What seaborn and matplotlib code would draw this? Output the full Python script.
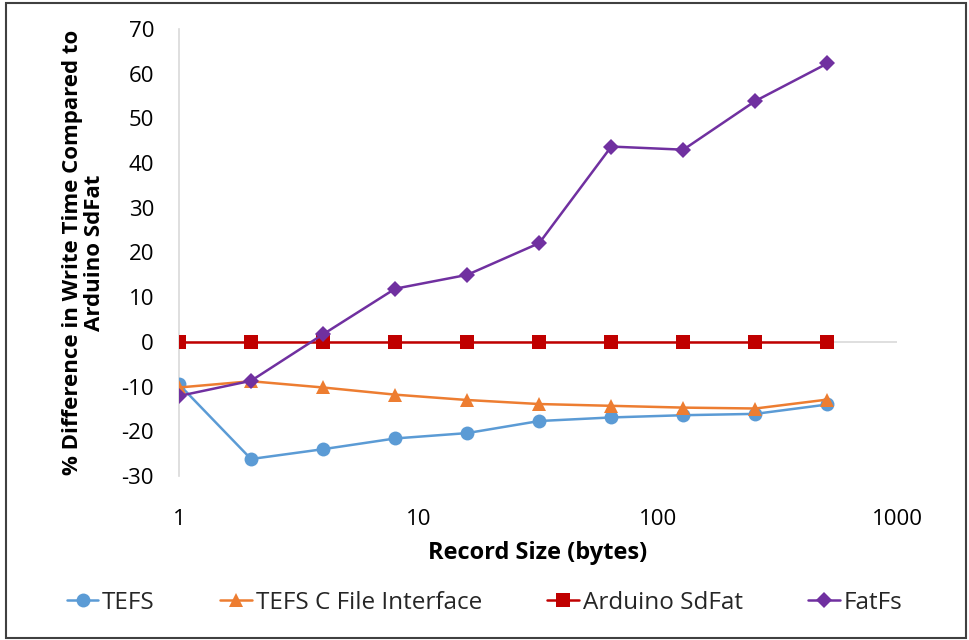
import numpy as np
import pandas as pd
import seaborn as sns
import matplotlib.pyplot as plt
from matplotlib.patches import Rectangle

sns.set_theme()
sns.set_style("white")
plt.rcParams['font.family'] = ['Open Sans', 'DejaVu Sans']
plt.rcParams['axes.unicode_minus'] = False

# record sizes (bytes)
record_size = [1, 2, 4, 8, 16, 32, 64, 128, 256, 512]

# % difference in write time vs Arduino SdFat
tefs = [-9.5, -26.2, -24.0, -21.6, -20.4, -17.7, -16.9, -16.4, -16.1, -14.0]
tefs_c = [-10.2, -8.8, -10.2, -11.8, -13.0, -13.9, -14.3, -14.7, -14.9, -12.9]
sdfat = [0, 0, 0, 0, 0, 0, 0, 0, 0, 0]
fatfs = [-12.1, -8.7, 1.7, 11.9, 15.0, 22.1, 43.7, 43.0, 53.9, 62.3]

names = ["TEFS", "TEFS C File Interface", "Arduino SdFat", "FatFs"]
colors = ["#5b9bd5", "#ed7d31", "#c00000", "#7030a0"]
markers = ["o", "^", "s", "D"]
sizes = [10, 10, 10, 8.5]

df = pd.DataFrame({"size": record_size, names[0]: tefs, names[1]: tefs_c,
                   names[2]: sdfat, names[3]: fatfs})

fig = plt.figure(figsize=(9.69, 6.40), dpi=100)
ax = fig.add_axes([179/969, 1-476/640, (897-179)/969, (476-29)/640])

ax.axhline(0, color="#d9d9d9", lw=1.2, zorder=1)

for i, n in enumerate(names):
    sns.lineplot(x="size", y=n, data=df, ax=ax, color=colors[i], marker=markers[i],
                 markersize=sizes[i], markeredgewidth=0, linewidth=1.8, label=n,
                 zorder=3+i)

ax.set_xscale("log")
ax.set_xlim(1, 1000)
ax.set_ylim(-30, 70)
ax.set_yticks(range(-30, 71, 10))
ax.set_xticks([1, 10, 100, 1000])
ax.set_xticklabels(["1", "10", "100", "1000"])
ax.minorticks_off()
ax.tick_params(axis="x", labelsize=16, pad=24, length=0, colors="black")
ax.tick_params(axis="y", labelsize=16, pad=18, length=0, colors="black")

for s in ["top", "right", "bottom"]:
    ax.spines[s].set_visible(False)
ax.spines["left"].set_color("#d9d9d9")
ax.spines["left"].set_linewidth(1.2)

ax.set_xlabel("Record Size (bytes)", fontsize=17, fontweight="bold", labelpad=8,
              color="black")
ax.set_ylabel("% Difference in Write Time Compared to\nArduino SdFat", fontsize=16,
              fontweight="bold", labelpad=12, linespacing=1.05, color="black")

handles, labels = ax.get_legend_handles_labels()
ax.get_legend().remove()
fig.legend(handles, labels, loc="center", bbox_to_anchor=(0.5, 1-603/640), ncol=4,
           frameon=False, fontsize=17.5, handlelength=1.3, handletextpad=0.15,
           columnspacing=2.7)

fig.patches.append(Rectangle((6/969, 2/640), 960/969, 635/640, transform=fig.transFigure,
                             fill=False, edgecolor="#404040", lw=1.5))

fig.savefig("out.png", dpi=100)
